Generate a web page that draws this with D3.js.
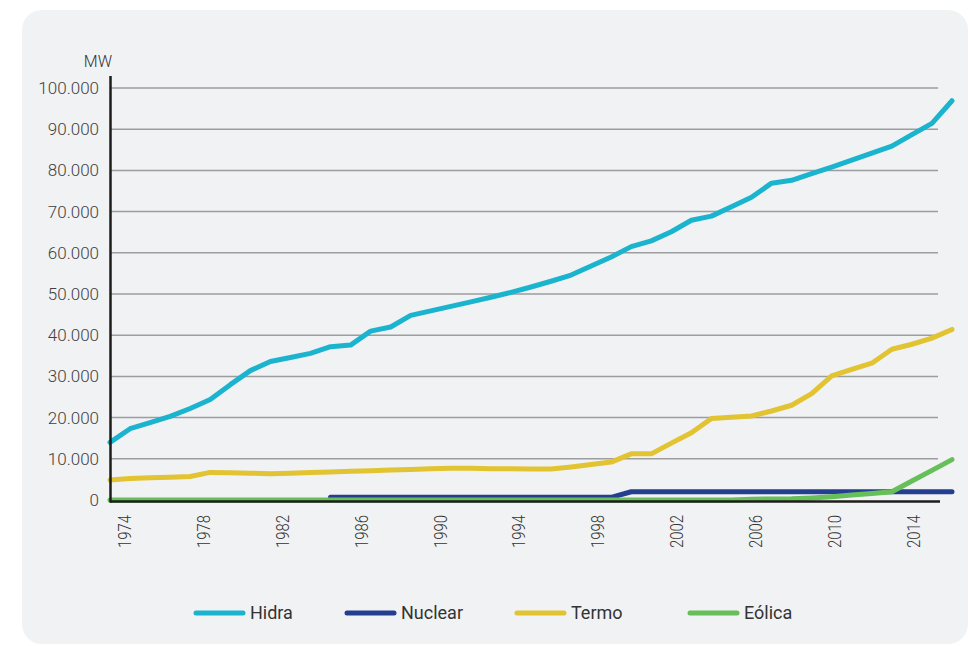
<!DOCTYPE html>
<html>
<head>
<meta charset="utf-8">
<script src="https://cdn.jsdelivr.net/npm/d3@7"></script>
<style>
  html, body { margin: 0; padding: 0; background: #ffffff; }
  svg { display: block; font-family: Roboto, "Noto Sans", sans-serif; }
</style>
</head>
<body>
<div id="diagram"></div>
<script>
// capacidade instalada (MW), 1974 - 2016

const years = [
  1974, 1975, 1976, 1977, 1978, 1979, 1980, 1981, 1982, 1983,
  1984, 1985, 1986, 1987, 1988, 1989, 1990, 1991, 1992, 1993,
  1994, 1995, 1996, 1997, 1998, 1999, 2000, 2001, 2002, 2003,
  2004, 2005, 2006, 2007, 2008, 2009, 2010, 2011, 2012, 2013,
  2014, 2015, 2016
];

const hidra = [
  14000, 17300, 18800, 20300, 22200, 24400, 28000, 31400, 33600, 34600,
  35600, 37200, 37600, 41000, 42000, 44800, 45900, 47000, 48100, 49200,
  50400, 51700, 53100, 54600, 56800, 59000, 61500, 62900, 65100, 67900,
  68900, 71200, 73500, 76900, 77600, 79200, 80800, 82500, 84200, 85900,
  88700, 91400, 96900
];

const nuclear = [
  null, null, null, null, null, null, null, null, null, null,
  null, 657, 657, 657, 657, 657, 657, 657, 657, 657,
  657, 657, 657, 657, 657, 657, 2007, 2007, 2007, 2007,
  2007, 2007, 2007, 2007, 2007, 2007, 2007, 2007, 2007, 2007,
  2007, 2007, 2007
];

const termo = [
  4850, 5200, 5400, 5500, 5700, 6700, 6600, 6500, 6400, 6500,
  6700, 6800, 7000, 7100, 7300, 7400, 7600, 7700, 7700, 7600,
  7600, 7500, 7500, 8000, 8600, 9200, 11200, 11200, 13800, 16300,
  19800, 20100, 20400, 21600, 23000, 25800, 30100, 31700, 33200, 36600,
  37800, 39300, 41400
];

const eolica = [
  0, 0, 0, 0, 0, 0, 0, 0, 0, 0,
  0, 0, 0, 0, 0, 0, 0, 0, 0, 0,
  0, 0, 0, 0, 0, 0, 0, 0, 0, 0,
  0, 0, 200, 250, 300, 500, 800, 1200, 1600, 2000,
  4600, 7200, 9800
];

const seriesNames = ['Hidra', 'Nuclear', 'Termo', 'Eólica'];
const seriesColors = ['#1bb4cf', '#243f8f', '#e2c331', '#67bf59'];
const yTicks = [0, 10000, 20000, 30000, 40000, 50000, 60000, 70000, 80000, 90000, 100000];
const xLabelYears = [1974, 1978, 1982, 1986, 1990, 1994, 1998, 2002, 2006, 2010, 2014];

!(function () {
  let
    width = 973,
    height = 646,
    series = [hidra, nuclear, termo, eolica],
    fmt = d3.formatLocale({ decimal: ',', thousands: '.', grouping: [3], currency: ['', ''] }).format(','),
    // scale for the lines
    x = d3.scaleLinear()
      .domain([1974, 2016])
      .range([110, 952]),
    // category axis for the labels
    xBand = d3.scaleBand()
      .domain(years.slice(0, 42))
      .range([110, 938]),
    y = d3.scaleLinear()
      .domain([0, 100000])
      .range([500, 88]);

  let svg = d3.select('#diagram')
    .append('svg')
    .attr('width', width)
    .attr('height', height);

  // card
  svg.append('rect')
    .attr('x', 22)
    .attr('y', 10)
    .attr('width', 946)
    .attr('height', 634)
    .attr('rx', 20)
    .style('fill', '#f1f2f4');

  // grid
  svg.append('g')
    .selectAll('line')
    .data(yTicks.filter(d => d > 0))
    .enter()
    .append('line')
    .attr('x1', 110)
    .attr('x2', 938)
    .attr('y1', d => y(d))
    .attr('y2', d => y(d))
    .style('stroke', '#9d9d9f')
    .style('stroke-width', 1.5);

  // y labels
  svg.append('g')
    .selectAll('text')
    .data(yTicks)
    .enter()
    .append('text')
    .attr('x', 99)
    .attr('y', d => y(d))
    .attr('dy', '0.35em')
    .attr('text-anchor', 'end')
    .style('font-size', '17px')
    .style('font-weight', 300)
    .style('fill', '#3f3f3f')
    .text(d => fmt(d));

  svg.append('text')
    .attr('x', 112)
    .attr('y', 67)
    .attr('text-anchor', 'end')
    .style('font-size', '16px')
    .style('font-weight', 300)
    .style('fill', '#333')
    .text('MW');

  // x labels
  svg.append('g')
    .selectAll('text')
    .data(xLabelYears)
    .enter()
    .append('text')
    .attr('transform', d => 'translate(' + (xBand(d) + xBand.bandwidth() / 2 + 5) + ',515) rotate(-90)')
    .attr('text-anchor', 'end')
    .attr('dy', '0.35em')
    .attr('textLength', 33)
    .attr('lengthAdjust', 'spacingAndGlyphs')
    .style('font-size', '18px')
    .style('font-weight', 300)
    .style('fill', '#333')
    .text(d => d);

  // lines
  let line = d3.line()
    .defined(d => d[1] !== null)
    .x(d => x(d[0]))
    .y(d => y(d[1]));

  svg.append('g')
    .selectAll('path')
    .data(series)
    .enter()
    .append('path')
    .attr('d', s => line(s.map((v, i) => [years[i], v])))
    .style('fill', 'none')
    .style('stroke', (s, i) => seriesColors[i])
    .style('stroke-width', 5)
    .style('stroke-linejoin', 'round')
    .style('stroke-linecap', 'round');

  // axes
  svg.append('line')
    .attr('x1', 110).attr('x2', 940)
    .attr('y1', 501.5).attr('y2', 501.5)
    .style('stroke', '#1d1d1b')
    .style('stroke-width', 2.5);

  svg.append('line')
    .attr('x1', 110.5).attr('x2', 110.5)
    .attr('y1', 76).attr('y2', 502.5)
    .style('stroke', '#1d1d1b')
    .style('stroke-width', 2.5);

  // legend
  let legendX = [196, 347, 517, 690];
  let legend = svg.append('g')
    .selectAll('g')
    .data(seriesNames)
    .enter()
    .append('g')
    .attr('transform', (d, i) => 'translate(' + legendX[i] + ',613)');

  legend.append('line')
    .attr('x1', 0).attr('x2', 47)
    .style('stroke', (d, i) => seriesColors[i])
    .style('stroke-width', 5)
    .style('stroke-linecap', 'round');

  legend.append('text')
    .attr('x', 54)
    .attr('dy', '0.35em')
    .style('font-size', '18px')
    .style('fill', '#333')
    .text(d => d);
}());
</script>
</body>
</html>
